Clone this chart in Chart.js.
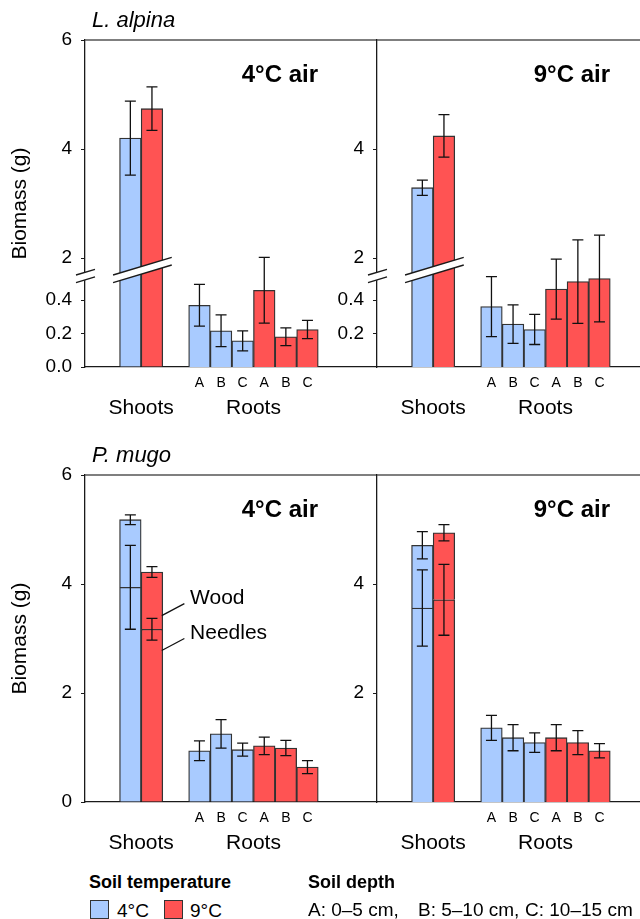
<!DOCTYPE html>
<html>
<head>
<meta charset="utf-8">
<title>Biomass by soil and air temperature</title>
<script src="https://cdn.jsdelivr.net/npm/chart.js@4.4.1/dist/chart.umd.min.js"></script>
<style>
    html, body { margin: 0; padding: 0; background: #fff; overflow: hidden; }
    body { width: 640px; height: 919px; position: relative; font-family: 'Liberation Sans', Arial, sans-serif; color: #000; }
    canvas { position: absolute; }
    .legend { position: absolute; white-space: pre; }
    .head { font-weight: bold; font-size: 18px; line-height: 18px; }
    .item { font-size: 19px; line-height: 19px; }
    .swatch { position: absolute; width: 17px; height: 17px; border: 1.3px solid #333; }
</style>
</head>
<body>
<canvas id="alpina4" width="377" height="430" style="left:0;top:0"></canvas>
<canvas id="alpina9" width="377" height="430" style="left:292px;top:0"></canvas>
<canvas id="mugo4" width="377" height="430" style="left:0;top:435px"></canvas>
<canvas id="mugo9" width="377" height="430" style="left:292px;top:435px"></canvas>

<div class="legend head" style="left:89px;top:873px">Soil temperature</div>
<div class="swatch" id="swatch0" style="left:90px;top:900px"></div>
<div class="legend item" id="temp0" style="left:117px;top:901px"></div>
<div class="swatch" id="swatch1" style="left:164px;top:900px"></div>
<div class="legend item" id="temp1" style="left:190px;top:901px"></div>
<div class="legend head" style="left:308px;top:873px">Soil depth</div>
<div class="legend item" id="depth0" style="left:308px;top:900px"></div>
<div class="legend item" id="depth1" style="left:418px;top:900px"></div>
<div class="legend item" id="depth2" style="left:525px;top:900px"></div>

<script>
const groups = ['Shoots', 'Roots'];
const depths = ['A', 'B', 'C'];
const depthRanges = ['0–5 cm,', '5–10 cm,', '10–15 cm'];
const soilTemps = ['4°C', '9°C'];
const airTemps = ['4°C air', '9°C air'];
const species = ['L. alpina', 'P. mugo'];

// L. alpina, shoots [soil 4°C, soil 9°C]; roots A B C (soil 4°C) then A B C (soil 9°C)
const alpinaShoots4Air = [4.20, 4.74];
const alpinaShootErr4Air = [0.68, 0.40];
const alpinaShoots9Air = [3.29, 4.24];
const alpinaShootErr9Air = [0.14, 0.39];
const alpinaRoots4Air = [0.37, 0.217, 0.157, 0.46, 0.181, 0.225];
const alpinaRootErr4Air = [0.125, 0.095, 0.06, 0.197, 0.053, 0.055];
const alpinaRoots9Air = [0.362, 0.257, 0.225, 0.467, 0.512, 0.53];
const alpinaRootErr9Air = [0.18, 0.115, 0.09, 0.18, 0.25, 0.26];

// P. mugo, shoots split in needles + wood
const mugoNeedles4Air = [3.94, 3.17];
const mugoNeedleErr4Air = [0.77, 0.20];
const mugoWood4Air = [1.24, 1.05];
const mugoWoodErr4Air = [0.09, 0.10];
const mugoNeedles9Air = [3.56, 3.71];
const mugoNeedleErr9Air = [0.70, 0.65];
const mugoWood9Air = [1.15, 1.23];
const mugoWoodErr9Air = [0.25, 0.15];
const mugoRoots4Air = [0.94, 1.25, 0.96, 1.03, 0.99, 0.64];
const mugoRootErr4Air = [0.18, 0.26, 0.12, 0.16, 0.14, 0.12];
const mugoRoots9Air = [1.36, 1.18, 1.09, 1.18, 1.09, 0.94];
const mugoRootErr9Air = [0.23, 0.24, 0.18, 0.24, 0.22, 0.13];

// tick labels
const alpinaUpperTicks = [[2, 4, 6], [2, 4]];
const alpinaLowerTicks = [[0, 0.2, 0.4], [0.2, 0.4]];
const mugoTicks = [[0, 2, 4, 6], [2, 4]];

// Wood / Needles callouts on the red shoot bar (value where the leader touches)
const noteLabels = ['Wood', 'Needles'];
const noteValues = [3.42, 2.78];

const BLUE = '#a9cbff';
const RED = '#ff5353';
const EDGE = '#333';
const AXIS = '#1a1a1a';
const FONT = "'Liberation Sans', Arial, sans-serif";
const YMAX = 6;
const LOWMAX = 1.96;   // lower part of the broken axis, spread over the same height
const SLOTS = 13, SHOOT_SLOT = 2, ROOT_SLOT = 7;

function slotData(slot, value) {
    const arr = new Array(SLOTS).fill(null);
    arr[slot] = value;
    return arr;
}

function categoryLabels() {
    const labels = new Array(SLOTS).fill('');
    labels[SHOOT_SLOT] = groups[0];
    labels[ROOT_SLOT] = groups[1];
    return labels;
}

function bar(slot, value, err, color, stack, axis) {
    return {
        data: slotData(slot, value),
        errors: slotData(slot, err),
        backgroundColor: color,
        borderColor: EDGE,
        borderWidth: 1.3,
        stack: stack,
        yAxisID: axis
    };
}

function rootSets(values, errs, axis) {
    return values.map((v, i) => {
        const ds = bar(ROOT_SLOT, v, errs[i], i < 3 ? BLUE : RED, 'root' + i, axis);
        ds.depth = depths[i % 3];
        return ds;
    });
}

function alpinaSets(shoots, shootErrs, roots, rootErrs) {
    return [
        bar(SHOOT_SLOT, shoots[0], shootErrs[0], BLUE, 'shoot0', 'y'),
        bar(SHOOT_SLOT, shoots[1], shootErrs[1], RED, 'shoot1', 'y')
    ].concat(rootSets(roots, rootErrs, 'yr'));
}

function mugoSets(needles, needleErrs, wood, woodErrs, roots, rootErrs) {
    const sets = [];
    [BLUE, RED].forEach((color, i) => {
        sets.push(bar(SHOOT_SLOT, needles[i], needleErrs[i], color, 'shoot' + i, 'y'));
        sets.push(bar(SHOOT_SLOT, wood[i], woodErrs[i], color, 'shoot' + i, 'y'));
    });
    sets[2].noteAnchor = true;
    return sets.concat(rootSets(roots, rootErrs, 'y'));
}

// keep every panel's plot box at the same fixed size
function noPadding(s) {
    s.paddingTop = s.paddingBottom = s.paddingLeft = s.paddingRight = 0;
}

function fixWidth(s) {
    s.width = 85;
    noPadding(s);
}

function fixHeight(s) {
    s.height = 63;
    noPadding(s);
}

function yAxis(tickValues, label, withTitle) {
    return {
        min: 0,
        max: YMAX,
        afterFit: fixWidth,
        afterBuildTicks: s => { s.ticks = tickValues.map(v => ({ value: v })); },
        ticks: {
            autoSkip: false,
            padding: 9,
            color: '#000',
            font: { family: FONT, size: 19 },
            callback: label
        },
        grid: { drawOnChartArea: false, drawTicks: true, tickLength: 4, color: AXIS },
        border: { display: true, color: AXIS, width: 1.3 },
        title: {
            display: withTitle,
            text: 'Biomass (g)',
            color: '#000',
            font: { family: FONT, size: 21 },
            padding: { top: 8, bottom: 0 }
        }
    };
}

function brokenScales(col) {
    const lower = alpinaLowerTicks[col].map(v => v * YMAX / LOWMAX);
    const y = yAxis(lower.concat(alpinaUpperTicks[col]),
        v => v < 1.9 ? (v * LOWMAX / YMAX).toFixed(1) : String(v), col === 0);
    return { y: y, yr: { display: false, min: 0, max: LOWMAX, afterFit: noPadding } };
}

function plainScales(col) {
    const y = yAxis(mugoTicks[col], v => String(v), col === 0);
    y.stacked = true;
    return { y: y };
}

function drawErrorBars(chart) {
    const ctx = chart.ctx;
    ctx.strokeStyle = '#111';
    ctx.lineWidth = 1.3;
    chart.data.datasets.forEach((ds, i) => {
        const meta = chart.getDatasetMeta(i);
        const scale = chart.scales[meta.yAxisID];
        ds.data.forEach((v, j) => {
            if (v == null) return;
            const el = meta.data[j];
            const half = Math.abs(scale.getPixelForValue(ds.errors[j]) - scale.getPixelForValue(0));
            ctx.beginPath();
            ctx.moveTo(el.x, el.y - half);
            ctx.lineTo(el.x, el.y + half);
            ctx.moveTo(el.x - 5.5, el.y - half);
            ctx.lineTo(el.x + 5.5, el.y - half);
            ctx.moveTo(el.x - 5.5, el.y + half);
            ctx.lineTo(el.x + 5.5, el.y + half);
            ctx.stroke();
        });
    });
}

function drawBreak(ctx, x0, x1, yMid) {
    const slope = 0.30, gap = 7.6;
    const xm = (x0 + x1) / 2;
    const yl = yMid + (xm - x0) * slope;
    const yr = yMid - (x1 - xm) * slope;
    ctx.beginPath();
    ctx.moveTo(x0, yl - gap / 2);
    ctx.lineTo(x1, yr - gap / 2);
    ctx.lineTo(x1, yr + gap / 2);
    ctx.lineTo(x0, yl + gap / 2);
    ctx.closePath();
    ctx.fillStyle = '#fff';
    ctx.fill();
    ctx.beginPath();
    ctx.moveTo(x0, yl - gap / 2);
    ctx.lineTo(x1, yr - gap / 2);
    ctx.moveTo(x0, yl + gap / 2);
    ctx.lineTo(x1, yr + gap / 2);
    ctx.strokeStyle = AXIS;
    ctx.lineWidth = 1.4;
    ctx.stroke();
}

const panelDecor = {
    id: 'panelDecor',
    afterDatasetsDraw(chart, args, opts) {
        const ctx = chart.ctx;
        const area = chart.chartArea;
        const y = chart.scales.y;
        ctx.save();

        // frame top
        ctx.strokeStyle = '#555';
        ctx.lineWidth = 1.3;
        ctx.beginPath();
        ctx.moveTo(area.left, area.top);
        ctx.lineTo(area.right, area.top);
        ctx.stroke();

        if (opts.broken) {
            const blue = chart.getDatasetMeta(0).data[SHOOT_SLOT];
            const red = chart.getDatasetMeta(1).data[SHOOT_SLOT];
            drawBreak(ctx, blue.x - blue.width / 2 - 6.5, red.x + red.width / 2 + 9, y.getPixelForValue(1.78));
            drawBreak(ctx, area.left - 9, area.left + 10, y.getPixelForValue(1.67));
        }

        drawErrorBars(chart);

        // depth letters under root bars
        ctx.fillStyle = '#000';
        ctx.font = '14px ' + FONT;
        ctx.textAlign = 'center';
        ctx.textBaseline = 'middle';
        chart.data.datasets.forEach((ds, i) => {
            if (!ds.depth) return;
            const el = chart.getDatasetMeta(i).data[ROOT_SLOT];
            ctx.fillText(ds.depth, el.x, area.bottom + 16);
        });

        if (opts.notes) {
            const idx = chart.data.datasets.findIndex(ds => ds.noteAnchor);
            const el = chart.getDatasetMeta(idx).data[SHOOT_SLOT];
            const x0 = el.x + el.width / 2 - 1;
            ctx.font = '21px ' + FONT;
            ctx.textAlign = 'left';
            ctx.strokeStyle = '#111';
            ctx.lineWidth = 1.3;
            noteValues.forEach((v, k) => {
                const y0 = y.getPixelForValue(v);
                ctx.beginPath();
                ctx.moveTo(x0, y0);
                ctx.lineTo(x0 + 22.6, y0 - 12);
                ctx.stroke();
                ctx.fillText(noteLabels[k], x0 + 28.3, y0 - 17);
            });
        }

        ctx.textBaseline = 'alphabetic';
        ctx.textAlign = 'right';
        ctx.font = 'bold 24px ' + FONT;
        ctx.fillText(opts.air, area.left + 233, area.top + 42);

        if (opts.species) {
            ctx.textAlign = 'left';
            ctx.font = 'italic 22px ' + FONT;
            ctx.fillText(opts.species, area.left + 7, area.top - 13);
        }
        ctx.restore();
    }
};

function makeChart(id, datasets, yScales, decor) {
    return new Chart(document.getElementById(id), {
        type: 'bar',
        data: { labels: categoryLabels(), datasets: datasets },
        options: {
            responsive: false,
            animation: false,
            devicePixelRatio: 1,
            layout: { padding: { top: 40, left: 0, right: 0, bottom: 0 } },
            datasets: { bar: { barThickness: 21.6, skipNull: true } },
            plugins: {
                legend: { display: false },
                tooltip: { enabled: false },
                panelDecor: decor
            },
            scales: Object.assign({
                x: {
                    afterFit: fixHeight,
                    grid: { display: false, drawTicks: false },
                    border: { display: true, color: AXIS, width: 1.3 },
                    ticks: {
                        autoSkip: false,
                        maxRotation: 0,
                        padding: 29,
                        color: '#000',
                        font: { family: FONT, size: 21 }
                    }
                }
            }, yScales)
        },
        plugins: [panelDecor]
    });
}

function buildLegend() {
    [BLUE, RED].forEach((c, i) => {
        document.getElementById('swatch' + i).style.background = c;
        document.getElementById('temp' + i).textContent = soilTemps[i];
    });
    depths.forEach((d, i) => {
        document.getElementById('depth' + i).textContent = d + ': ' + depthRanges[i];
    });
}

document.addEventListener('DOMContentLoaded', () => {
    makeChart('alpina4',
        alpinaSets(alpinaShoots4Air, alpinaShootErr4Air, alpinaRoots4Air, alpinaRootErr4Air),
        brokenScales(0), { air: airTemps[0], species: species[0], broken: true });
    makeChart('alpina9',
        alpinaSets(alpinaShoots9Air, alpinaShootErr9Air, alpinaRoots9Air, alpinaRootErr9Air),
        brokenScales(1), { air: airTemps[1], broken: true });
    makeChart('mugo4',
        mugoSets(mugoNeedles4Air, mugoNeedleErr4Air, mugoWood4Air, mugoWoodErr4Air, mugoRoots4Air, mugoRootErr4Air),
        plainScales(0), { air: airTemps[0], species: species[1], notes: true });
    makeChart('mugo9',
        mugoSets(mugoNeedles9Air, mugoNeedleErr9Air, mugoWood9Air, mugoWoodErr9Air, mugoRoots9Air, mugoRootErr9Air),
        plainScales(1), { air: airTemps[1] });
    buildLegend();
});
</script>
</body>
</html>
